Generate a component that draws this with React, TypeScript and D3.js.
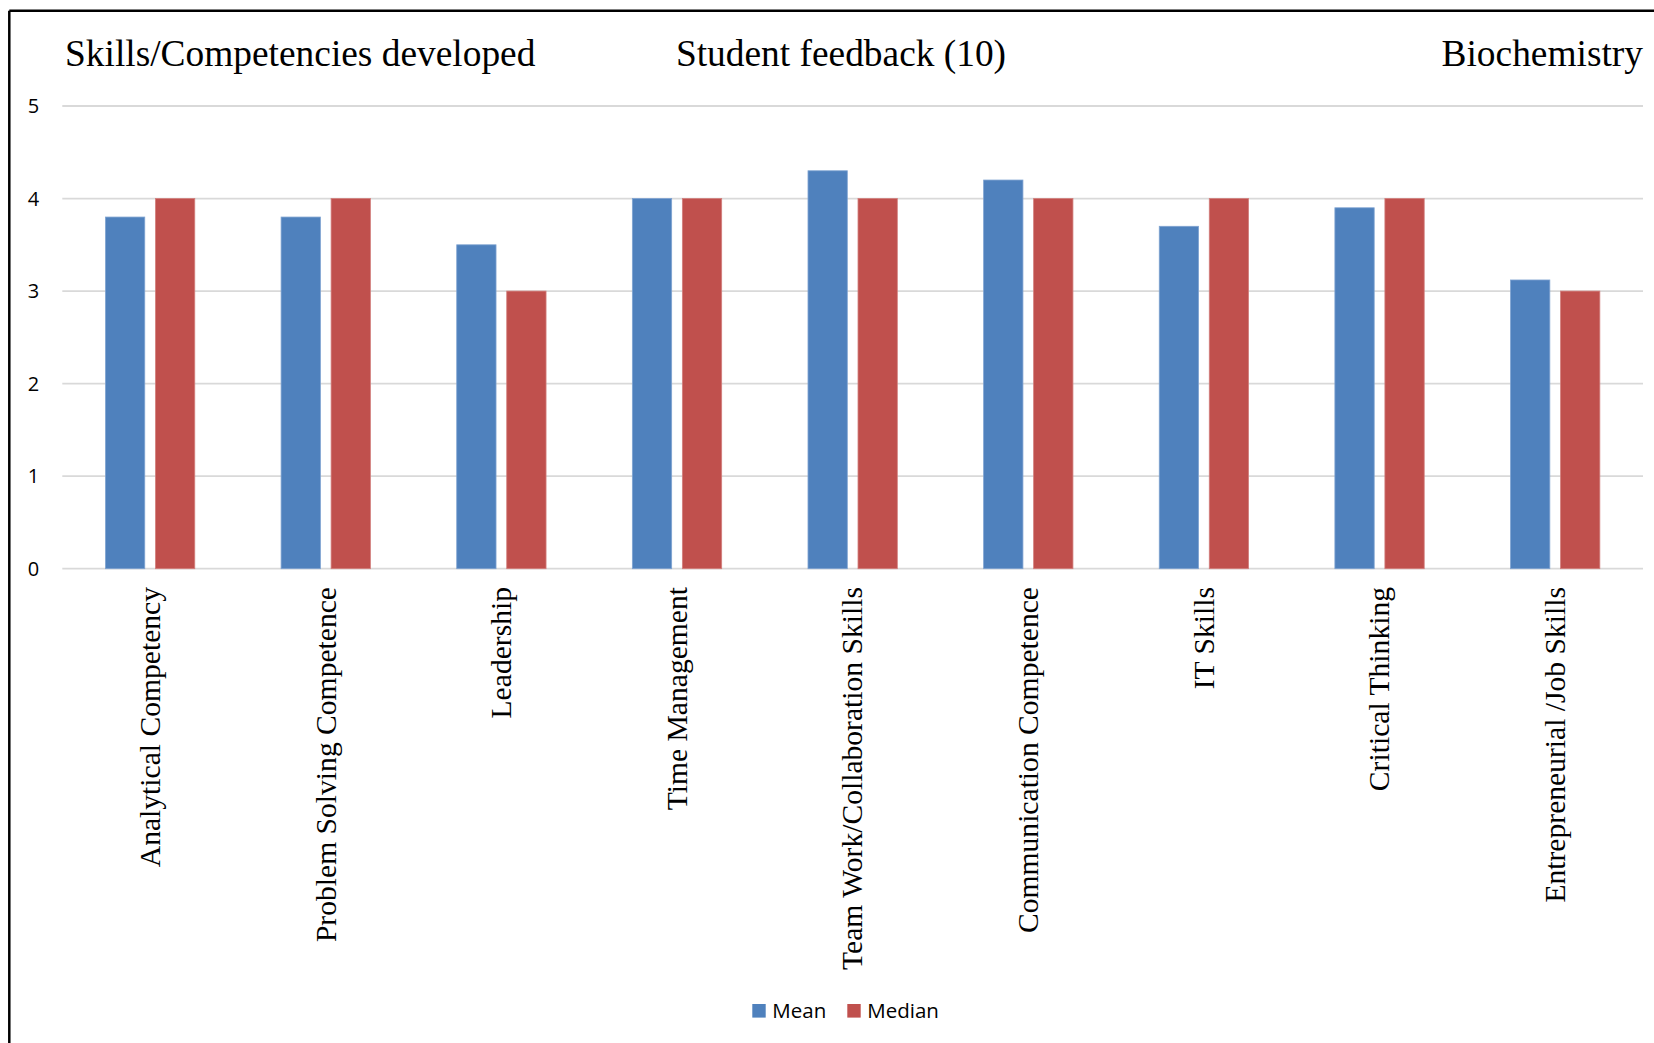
import React from "react";
import * as d3 from "d3";

const categories = [
  "Analytical Competency",
  "Problem Solving Competence",
  "Leadership",
  "Time Management",
  "Team Work/Collaboration Skills",
  "Communication Competence",
  "IT Skills",
  "Critical Thinking",
  "Entrepreneurial /Job Skills",
];
const seriesNames = ["Mean", "Median"];
const meanValues = [3.8, 3.8, 3.5, 4.0, 4.3, 4.2, 3.7, 3.9, 3.12];
const medianValues = [4, 4, 3, 4, 4, 4, 4, 4, 3];
const yTicks = [0, 1, 2, 3, 4, 5];
const colors = ["#4F81BD", "#C0504D"];

const W = 1654;
const H = 1043;

export default function App() {
  const x = d3.scaleBand<string>().domain(categories).range([62.3, 1643]).paddingInner(0).paddingOuter(0);
  const xs = d3
    .scaleBand<string>()
    .domain(seriesNames)
    .range([0, x.bandwidth()])
    .paddingInner(0.214)
    .paddingOuter(0.863);
  const y = d3.scaleLinear().domain([0, 5]).range([568.7, 106]);
  const series = [meanValues, medianValues];
  const serif = "'Liberation Serif', 'Times New Roman', serif";
  const sans = "'Open Sans', 'Noto Sans', sans-serif";

  return (
    <svg
      width={W}
      height={H}
      style={{ position: "absolute", left: 0, top: 0, background: "#fff" }}
    >
      <rect x={0} y={0} width={W} height={H} fill="#fff" />
      {/* frame */}
      <line x1={9.3} y1={10.7} x2={W} y2={10.7} stroke="#000" strokeWidth={2.5} />
      <line x1={9.3} y1={10.7} x2={9.3} y2={H} stroke="#000" strokeWidth={2.5} />

      {/* titles */}
      <text x={65} y={66} fontFamily={serif} fontSize={37.4} fill="#000">
        Skills/Competencies developed
      </text>
      <text x={841} y={66} fontFamily={serif} fontSize={37.4} fill="#000" textAnchor="middle">
        Student feedback (10)
      </text>
      <text x={1643} y={66} fontFamily={serif} fontSize={37.4} fill="#000" textAnchor="end">
        Biochemistry
      </text>

      {/* gridlines + y ticks */}
      {yTicks.map((t) => (
        <g key={t}>
          <line x1={62.3} x2={1643} y1={y(t)} y2={y(t)} stroke="#d9d9d9" strokeWidth={1.8} />
          <text
            x={33.5}
            y={y(t)}
            dy="0.36em"
            textAnchor="middle"
            fontFamily={sans}
            fontSize={20}
            fill="#000"
          >
            {t}
          </text>
        </g>
      ))}

      {/* bars */}
      {categories.map((c, i) => (
        <g key={c} transform={`translate(${x(c)},0)`}>
          {seriesNames.map((s, j) => (
            <rect
              key={s}
              x={xs(s)}
              width={xs.bandwidth()}
              y={y(series[j][i])}
              height={y(0) - y(series[j][i])}
              fill={colors[j]}
              stroke={j === 0 ? "#7fa3d1" : "#d27f7d"}
              strokeWidth={0.8}
            />
          ))}
        </g>
      ))}

      {/* category labels */}
      {categories.map((c) => {
        const cx = (x(c) as number) + x.bandwidth() / 2;
        return (
          <text
            key={c}
            transform={`translate(${cx},587) rotate(-90)`}
            textAnchor="end"
            dy="0.33em"
            fontFamily={serif}
            fontSize={29.6}
            fill="#000"
          >
            {c}
          </text>
        );
      })}

      {/* legend */}
      {seriesNames.map((s, j) => {
        const lx = [752.3, 847.3][j];
        return (
          <g key={s}>
            <rect x={lx} y={1004} width={13.4} height={13.6} fill={colors[j]} />
            <text x={lx + 20} y={1017.7} fontFamily={sans} fontSize={20.5} fill="#000">
              {s}
            </text>
          </g>
        );
      })}
    </svg>
  );
}
